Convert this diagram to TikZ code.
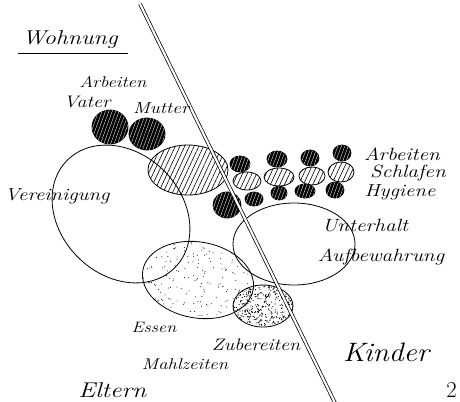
\documentclass[tikz,border=0pt]{standalone}
\usetikzlibrary{patterns.meta}
\begin{document}
\begin{tikzpicture}[x=0.75pt,y=-0.75pt,
  hand/.style={font=\itshape\fontsize{#1}{#1}\selectfont, inner sep=0pt, xscale=1.2},
  outline/.style={line width=0.6pt},
  hatch/.style={outline, pattern={Lines[angle=65,distance=3.2pt,line width=0.45pt]}},
  blackdot/.style={outline, fill=black, postaction={pattern={Lines[angle=70,distance=2.4pt,line width=0.25pt]}, pattern color=white}},
  divider/.style={line width=0.55pt, double, double distance=1.6pt}]
\useasboundingbox (0,0) rectangle (460,401);

% dividing double line
\coordinate (ltop) at (140,4);
\coordinate (lbot) at (336,405);

% light stipple (Essen)
\begin{scope}
  \clip[rotate around={-10:(198,280)}] (198,280) ellipse [x radius=56, y radius=38];
  \pgfmathsetseed{7}
  \foreach \i in {1,...,230} \fill ({198+58*rand},{280+40*rand}) circle (0.5);
\end{scope}
% dense stipple (Zubereiten)
\begin{scope}
  \clip (263,306) ellipse [x radius=30, y radius=21];
  \pgfmathsetseed{11}
  \foreach \i in {1,...,420} \fill ({263+31*rand},{306+22*rand}) circle (0.6);
\end{scope}

% large outlines
\draw[outline, rotate around={-45:(121,214)}] (121,214) ellipse [x radius=76, y radius=61];
\draw[outline, rotate around={-10:(198,280)}] (198,280) ellipse [x radius=56, y radius=38];
\draw[outline] (263,306) ellipse [x radius=30, y radius=21];
\draw[outline] (294,244) ellipse [x radius=61, y radius=41];

% hatched ellipses
\draw[hatch] (188,170) ellipse [x radius=40, y radius=25];
\draw[hatch] (247,181) ellipse [x radius=14, y radius=9];
\draw[hatch] (279,177) ellipse [x radius=15, y radius=9];
\draw[hatch] (312,176) ellipse [x radius=13, y radius=9];
\draw[hatch] (341,172) ellipse [x radius=13, y radius=10];

% black dots
\draw[blackdot] (110,127) ellipse [x radius=18, y radius=17];
\draw[blackdot] (147,134) ellipse [x radius=18, y radius=16];
\draw[blackdot] (240,164) ellipse [x radius=10, y radius=8];
\draw[blackdot] (227,205) ellipse [x radius=14, y radius=13];
\draw[blackdot] (254,199) ellipse [x radius=9, y radius=7];
\draw[blackdot] (277,159) ellipse [x radius=10, y radius=8];
\draw[blackdot] (279,193) ellipse [x radius=8, y radius=7];
\draw[blackdot] (310,158) ellipse [x radius=9, y radius=8];
\draw[blackdot] (305,191) ellipse [x radius=10, y radius=7];
\draw[blackdot] (342,153) ellipse [x radius=9, y radius=8];
\draw[blackdot] (335,190) ellipse [x radius=9, y radius=8];

\draw[divider] (ltop) -- (lbot);

% labels
\node[hand=15] (wohnung) at (70,40) {Wohnung};
\coordinate (ulA) at (18,53);
\coordinate (ulB) at (128,53);
\draw[line width=0.6pt] (ulA) -- (ulB);
\node[hand=11.7] (arbeitenL) at (113,82) {Arbeiten};
\node[hand=12.5] (vater) at (87,102) {Vater};
\node[hand=12] (mutter) at (161,108) {Mutter};
\node[hand=13] (vereinigung) at (57,196) {Vereinigung};
\node[hand=13.3] (arbeitenR) at (402,154) {Arbeiten};
\node[hand=13.3] (schlafen) at (408,173) {Schlafen};
\node[hand=13] (hygiene) at (400,192) {Hygiene};
\node[hand=13.3] (unterhalt) at (365,226) {Unterhalt};
\node[hand=13.3] (aufbewahrung) at (381,257) {Aufbewahrung};
\node[hand=11.3] (essen) at (154,327) {Essen};
\node[hand=12.5] (zubereiten) at (256,345) {Zubereiten};
\node[hand=11.7] (mahlzeiten) at (185,364) {Mahlzeiten};
\node[hand=20, xscale=0.92] (kinder) at (386,352) {Kinder};
\node[hand=16, anchor=base west] (eltern) at (78,397) {Eltern};
\node[font=\fontsize{17}{17}\selectfont, inner sep=0pt, anchor=base west] (pagenum) at (446,397) {2};
\end{tikzpicture}
\end{document}
